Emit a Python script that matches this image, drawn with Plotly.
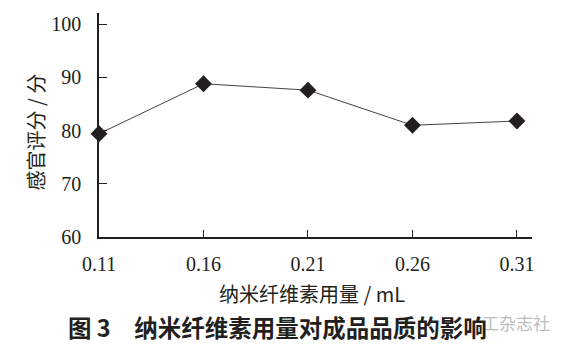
import plotly.graph_objects as go

dosage = [0.11, 0.16, 0.21, 0.26, 0.31]
score = [79.4, 88.8, 87.6, 81.0, 81.8]
x_ticks = [0.11, 0.16, 0.21, 0.26, 0.31]
x_tick_labels = ["0.11", "0.16", "0.21", "0.26", "0.31"]
y_ticks = [60, 70, 80, 90, 100]

L, R, T, B = 99, 38, 13, 108
W, H = 570, 345
pw, ph = W - L - R, H - T - B

def px(x):
    return (x - L) / pw

def py(y):
    return (H - B - y) / ph

fig = go.Figure()
fig.add_trace(go.Scatter(
    x=dosage, y=score, mode="lines+markers",
    line=dict(color="#444444", width=1),
    marker=dict(symbol="diamond", size=13, color="#231f20"),
    cliponaxis=False,
    showlegend=False,
))

serif = "Liberation Serif, Times New Roman, serif"
cjk = "Noto Sans CJK SC"

fig.update_layout(
    width=W, height=H,
    margin=dict(l=L, r=R, t=T, b=B),
    paper_bgcolor="white", plot_bgcolor="white",
    xaxis=dict(
        range=[0.11, 0.3172], tickvals=x_ticks, ticktext=x_tick_labels,
        ticks="inside", ticklen=7, tickwidth=1.2, tickcolor="#231f20",
        showline=True, linecolor="#231f20", linewidth=1.5,
        showgrid=False, zeroline=False,
        tickfont=dict(family=serif, size=20, color="#231f20"),
        ticklabelstandoff=8,
    ),
    yaxis=dict(
        range=[60, 102.1], tickvals=y_ticks,
        ticks="inside", ticklen=8, tickwidth=1.2, tickcolor="#231f20",
        showline=True, linecolor="#231f20", linewidth=1.5,
        showgrid=False, zeroline=False,
        tickfont=dict(family=serif, size=20, color="#231f20"),
        ticklabelstandoff=12,
    ),
    annotations=[
        dict(text="工杂志社", xref="paper", yref="paper",
             x=px(552), y=py(322), xanchor="right", yanchor="middle",
             showarrow=False, font=dict(family=cjk, size=17, color="#bdbdbd")),
        dict(text="纳米纤维素用量 / mL", xref="paper", yref="paper",
             x=px(311.5), y=py(293), xanchor="center", yanchor="middle",
             showarrow=False, font=dict(family=cjk, size=20, color="#231f20")),
        dict(text="感官评分 / 分", xref="paper", yref="paper",
             x=px(35), y=py(132.5), xanchor="center", yanchor="middle",
             textangle=-90, showarrow=False,
             font=dict(family=cjk, size=20, color="#231f20")),
        dict(text="<b>图 3　纳米纤维素用量对成品品质的影响</b>", xref="paper", yref="paper",
             x=px(277), y=py(327), xanchor="center", yanchor="middle",
             showarrow=False, font=dict(family=cjk, size=23.5, color="#231f20")),
    ],
)

fig.write_html("out.html")
